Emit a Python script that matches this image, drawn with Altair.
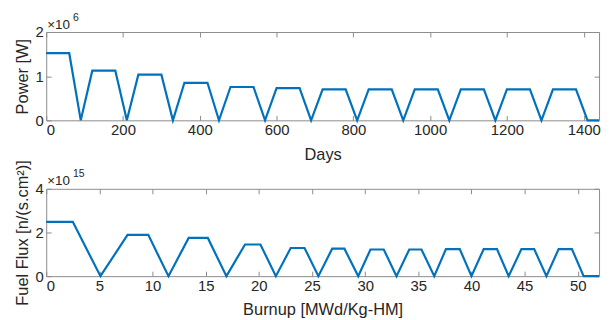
import altair as alt
import pandas as pd

# ---- top panel: power vs days ----
days = [0, 60, 90, 120, 180, 210, 240, 300, 330, 360, 420, 450,
        480, 540, 570, 600, 660, 690, 720, 780, 810, 840, 900, 930,
        960, 1020, 1050, 1080, 1140, 1170, 1200, 1260, 1290, 1320, 1380, 1410, 1440]
power = [1.52e6, 1.52e6, 0, 1.125e6, 1.125e6, 0, 1.035e6, 1.035e6, 0, 0.85e6, 0.85e6, 0,
         0.755e6, 0.755e6, 0, 0.73e6, 0.73e6, 0, 0.70e6, 0.70e6, 0, 0.70e6, 0.70e6, 0,
         0.70e6, 0.70e6, 0, 0.70e6, 0.70e6, 0, 0.70e6, 0.70e6, 0, 0.70e6, 0.70e6, 0, 0]

# ---- bottom panel: fuel flux vs burnup ----
burnup = [0, 2.5, 5.1, 7.65, 9.6, 11.5, 13.4, 15.2, 16.95, 18.7, 20.15, 21.6,
          23.0, 24.3, 25.6, 26.9, 28.05, 29.35, 30.5, 31.75, 32.95, 34.15, 35.3, 36.5,
          37.6, 38.9, 40.0, 41.15, 42.4, 43.5, 44.7, 45.9, 47.05, 48.2, 49.45, 50.55, 52.0]
flux = [2.49e15, 2.49e15, 0, 1.89e15, 1.89e15, 0, 1.75e15, 1.75e15, 0, 1.45e15, 1.45e15, 0,
        1.29e15, 1.29e15, 0, 1.26e15, 1.26e15, 0, 1.22e15, 1.22e15, 0, 1.22e15, 1.22e15, 0,
        1.24e15, 1.24e15, 0, 1.24e15, 1.24e15, 0, 1.24e15, 1.24e15, 0, 1.24e15, 1.24e15, 0, 0]

days_ticks = [0, 200, 400, 600, 800, 1000, 1200, 1400]
power_ticks = [0, 1e6, 2e6]
burnup_ticks = [0, 5, 10, 15, 20, 25, 30, 35, 40, 45, 50]
flux_ticks = [0, 2e15, 4e15]

LINE = "#0072BD"
BOX = "#8c8c8c"
TXT = "#262626"
W, H1, H2 = 557, 89, 88


def panel(df, xf, yf, xdom, ydom, xticks, yticks, xtitle, ytitle, yexp, exp_sup, h):
    xs = alt.Scale(domain=xdom, nice=False, zero=False)
    ys = alt.Scale(domain=ydom, nice=False)
    lab = f"format(datum.value / {yexp}, 'd')"
    line = alt.Chart(df).mark_line(color=LINE, strokeWidth=2.2).encode(
        x=alt.X(xf, type="quantitative", scale=xs,
                axis=alt.Axis(orient="bottom", values=xticks, title=xtitle, offset=-5,
                              tickSize=5, labelPadding=2, titlePadding=9, domain=False,
                              grid=False, format="d")),
        y=alt.Y(yf, type="quantitative", scale=ys,
                axis=alt.Axis(orient="left", values=yticks, title=ytitle, offset=-5,
                              tickSize=5, labelPadding=3, titlePadding=5, domain=False,
                              grid=False, labelExpr=lab)),
    )
    mirror = alt.Chart(df).mark_line(opacity=0).encode(
        x=alt.X(xf, type="quantitative", scale=xs,
                axis=alt.Axis(orient="top", values=xticks, title=None, labels=False,
                              offset=-5, tickSize=5, domain=False, grid=False)),
        y=alt.Y(yf, type="quantitative", scale=ys,
                axis=alt.Axis(orient="right", values=yticks, title=None, labels=False,
                              offset=-5, tickSize=5, domain=False, grid=False)),
    )
    one = pd.DataFrame({"k": [0]})
    t1 = alt.Chart(one).mark_text(text="×10", align="left", baseline="alphabetic",
                                  fontSize=13.5, color=TXT).encode(
        x=alt.value(1), y=alt.value(-3.5))
    t2 = alt.Chart(one).mark_text(text=exp_sup, align="left", baseline="alphabetic",
                                  fontSize=10.5, color=TXT).encode(
        x=alt.value(27), y=alt.value(-11.5))
    return alt.layer(line, mirror, t1, t2).resolve_axis(
        x="independent", y="independent").properties(width=W, height=h)


df1 = pd.DataFrame({"days": days, "power": power})
df2 = pd.DataFrame({"burnup": burnup, "flux": flux})

top = panel(df1, "days", "power", [0, 1440], [0, 2e6], days_ticks, power_ticks,
            "Days", "Power [W]", "1e6", "6", H1)
bottom = panel(df2, "burnup", "flux", [0, 52], [0, 4e15], burnup_ticks, flux_ticks,
               "Burnup [MWd/Kg-HM]", "Fuel Flux [n/(s.cm²)]", "1e15", "15", H2)

chart = alt.vconcat(top, bottom, spacing=69, bounds="flush").properties(
    padding={"left": 5.5, "top": 3, "right": 0, "bottom": 0}
).configure(font="Liberation Sans").configure_view(
    stroke=BOX, strokeWidth=1
).configure_axis(
    labelFontSize=15, titleFontSize=16.5, labelColor=TXT, titleColor=TXT,
    tickColor=BOX, titleFontWeight="normal", labelFont="Liberation Sans",
    titleFont="Liberation Sans"
)

chart.save("out.html", embed_options={"renderer": "svg", "actions": False})
